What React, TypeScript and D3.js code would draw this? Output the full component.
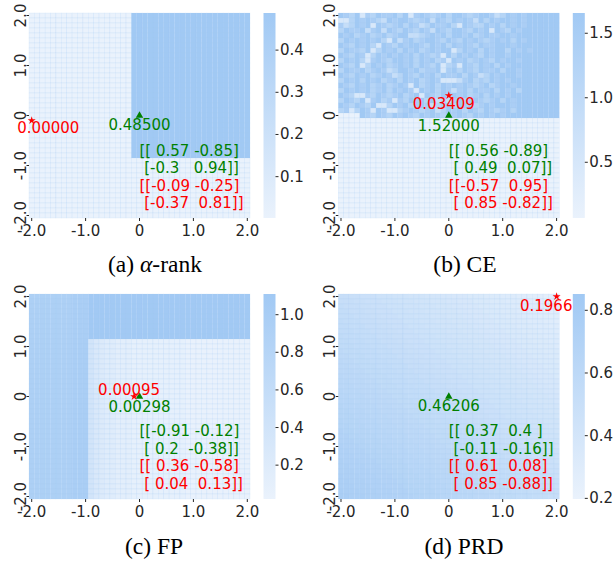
import React from 'react';
import * as d3 from 'd3';

// ---------- data ----------
const CELL_COORDS = [-2.0, -1.9, -1.8, -1.7, -1.6, -1.5, -1.4, -1.3, -1.2, -1.1, -1.0, -0.9, -0.8, -0.7, -0.6, -0.5, -0.4, -0.3, -0.2, -0.1, 0.0, 0.1, 0.2, 0.3, 0.4, 0.5, 0.6, 0.7, 0.8, 0.9, 1.0, 1.1, 1.2, 1.3, 1.4, 1.5, 1.6, 1.7, 1.8, 1.9, 2.0];
const AXIS_TICKS = [-2, -1, 0, 1, 2];
const AXIS_TICK_LABELS = ['-2.0', '-1.0', '0', '1.0', '2.0'];

// grids: rows top (y=2.0) to bottom (y=-2.0); "n|char:count ..." = n identical rows
const ALPHA_GRID = ['29|l:19 h:22', '12|l:41'];
const ALPHA_LEVELS: Record<string, number> = { l: 0.004, h: 0.485 };

const CE_GRID = [
  'edceadceddeceadedcdeceedcdeedbcedede' + 'eeeee',
  'aacededcbedeedcdebedcededbecedeedede' + 'eeeee',
  'dbcedeaedcdecedbceddecaedccedecedede' + 'eeeee',
  'ceddebdebedcedcedbedceedcedeaedcedee' + 'eeeee',
  'edecdecdecdeebbcdedeceedecdeddeedeee' + 'eeeee',
  'cedededecaebdecdeedcedcededcdedecede' + 'eeeee',
  'edcedecaedcedeedcedecededceddeeedeee' + 'eeeee',
  'ceddceacedecedecdedeeacedecedeeceded' + 'eeeee',
  'edcedacedededecedcdaecededcedeedeeee' + 'eeeee',
  'cedecadedceedecedecdaedecdedcedeedee' + 'eeeee',
  'edceacedecdedecedceacdaedcedecedeeee' + 'eeeee',
  'ceddecdedbceedecddeadecedceddeceedee' + 'eeeee',
  'edcedecdedbcedcedeceddecedbcedeeedee' + 'eeeee',
  'cedecedecdecedecdedaaabdecdcededeeee' + 'eeeee',
  'edcedecdecdedaecdecedededcdecdeedeee' + 'eeeee',
  'cededecdecededaedecedbdeceddecedecee' + 'eeeee',
  'edcaadcedcdecdeaedcededecdecededeeee' + 'eeeee',
  'cedceadecdadcedecebcbdecdedcdecedeee' + 'eeeee',
  'edcedceaacedecdedbcdecedecdedeeedeee' + 'eeeee',
  'cdacedaedaacdedcdebcedecedcedcdeceee' + 'eeeee',
  '0000edcedcededcededcededcedededeeeee' + 'eeeee',
  '20|0:41',
];
const CE_LEVELS: Record<string, number> = { '0': 0.07, a: 0.45, b: 0.85, c: 1.2, d: 1.45, e: 1.66 };

const FP_GRID = ['9|C:8 B:3 A:30', '32|C:8 B:3 7:1 5:1 4:1 3:2 2:3 1:10 0:12'];
const FP_LEVELS: Record<string, number> = { A: 1.1, B: 0.98, C: 0.93, '7': 0.38, '5': 0.28, '4': 0.23, '3': 0.18, '2': 0.13, '1': 0.08, '0': 0.04 };

const PRD_GRID = [
  'hhggfffeeedddcccbbbaa99988877766655444333',
  'hhhggfffeeedddcccbbbaa9998887776665544433',
  'ihhhggfffeeedddcccbbbaa999888777666554443',
  'iihhhggfffeeedddcccbbbaa99988877766655444',
  'iiihhhggfffeeedddcccbbbaa9998887776665544',
  'jiiihhhggfffeeedddcccbbbaa999888777666554',
  'jjiiihhhggfffeeedddcccbbbaa99988877766655',
  'jjjiiihhhggfffeeedddcccbbbaa9998887776665',
  'kjjjiiihhhggfffeeedddcccbbbaa999888777666',
  'kkjjjiiihhhggfffeeedddcccbbbaa99988877766',
  'kkkjjjiiihhhggfffeeedddcccbbbaa9998887776',
  'lkkkjjjiiihhhggfffeeedddcccbbbaa999888777',
  'llkkkjjjiiihhhggfffeeedddcccbbbaa99988877',
  'mllkkkjjjiiihhhggfffeeedddcccbbbaa9998887',
  'mmllkkkjjjiiihhhggfffeeedddcccbbbaa999888',
  'mmmllkkkjjjiiihhhggfffeeedddcccbbbaa99988',
  'nmmmllkkkjjjiiihhhggfffeeedddcccbbbaa9998',
  'nnmmmllkkkjjjiiihhhggfffeeedddcccbbbaa999',
  'nnnmmmllkkkjjjiiihhhggfffeeedddcccbbbaa99',
  'onnnmmmllkkkjjjiiihhhggfffeeedddcccbbbaa9',
  'oonnnmmmllkkkjjjiiihhhggfffeeedddcccbbbaa',
  'ooonnnmmmllkkkjjjiiihhhggfffeeedddcccbbba',
  'pooonnnmmmllkkkjjjiiihhhggfffeeedddcccbbb',
  'ppooonnnmmmllkkkjjjiiihhhggfffeeedddcccbb',
  'pppooonnnmmmllkkkjjjiiihhhggfffeeedddcccb',
  'qpppooonnnmmmllkkkjjjiiihhhggfffeeedddccc',
  'qqpppooonnnmmmllkkkjjjiiihhhggfffeeedddcc',
  'rqqpppooonnnmmmllkkkjjjiiihhhggfffeeedddc',
  'rrqqpppooonnnmmmllkkkjjjiiihhhggfffeeeddd',
  'rrrqqpppooonnnmmmllkkkjjjiiihhhggfffeeedd',
  'srrrqqpppooonnnmmmllkkkjjjiiihhhggfffeeed',
  'ssrrrqqpppooonnnmmmllkkkjjjiiihhhggfffeee',
  'sssrrrqqpppooonnnmmmllkkkjjjiiihhhggfffee',
  'tsssrrrqqpppooonnnmmmllkkkjjjiiihhhggfffe',
  'ttsssrrrqqpppooonnnmmmllkkkjjjiiihhhggfff',
  'tttsssrrrqqpppooonnnmmmllkkkjjjiiihhhggff',
  'utttsssrrrqqpppooonnnmmmllkkkjjjiiihhhggf',
  'uutttsssrrrqqpppooonnnmmmllkkkjjjiiihhhgg',
  'uuutttsssrrrqqpppooonnnmmmllkkkjjjiiihhhg',
  'vuuutttsssrrrqqpppooonnnmmmllkkkjjjiiihhh',
  'vvuuutttsssrrrqqpppooonnnmmmllkkkjjjiiihh',
];
const PRD_CODES = '0123456789abcdefghijklmnopqrstuvwxyz';
const PRD_RANGE = [0.2, 0.85];

const CB_DOMAINS = [[0.002, 0.488], [0.068, 1.657], [0.02, 1.11], [0.198, 0.852]];
const CB_TICKS = [[0.1, 0.2, 0.3, 0.4], [0.5, 1.0, 1.5], [0.2, 0.4, 0.6, 0.8, 1.0], [0.2, 0.4, 0.6, 0.8]];
const CB_TICK_LABELS = [['0.1', '0.2', '0.3', '0.4'], ['0.5', '1.0', '1.5'], ['0.2', '0.4', '0.6', '0.8', '1.0'], ['0.2', '0.4', '0.6', '0.8']];

const RED_POINTS = [[-2.0, -0.1], [0.0, 0.4], [-0.1, 0.0], [2.0, 2.0]];
const RED_VALUES = ['0.00000', '0.03409', '0.00095', '0.1966'];
const GREEN_POINTS = [[0.0, 0.0], [0.0, 0.0], [0.0, 0.0], [0.0, 0.0]];
const GREEN_VALUES = ['0.48500', '1.52000', '0.00298', '0.46206'];
const GREEN_MATRICES = [
  ['[[ 0.57 -0.85]', ' [-0.3   0.94]]'],
  ['[[ 0.56 -0.89]', ' [ 0.49  0.07]]'],
  ['[[-0.91 -0.12]', ' [ 0.2  -0.38]]'],
  ['[[ 0.37  0.4 ]', ' [-0.11 -0.16]]'],
];
const RED_MATRICES = [
  ['[[-0.09 -0.25]', ' [-0.37  0.81]]'],
  ['[[-0.57  0.95]', ' [ 0.85 -0.82]]'],
  ['[[ 0.36 -0.58]', ' [ 0.04  0.13]]'],
  ['[[ 0.61  0.08]', ' [ 0.85 -0.88]]'],
];
const CAPTIONS = [['(a) ', 'α', '-rank'], ['(b) CE', '', ''], ['(c) FP', '', ''], ['(d) PRD', '', '']];

// ---------- layout / style ----------
const W = 221;
const H = 205;
const CB_GAP = 13.5;
const CB_W = 12;
const ORIGINS = [[29, 13], [338.3, 13], [29, 294], [338.3, 294]];
const RED_OFFSETS = [[16.6, 12.5], [-5, 13.5], [-5, -1.7], [-10.4, 14.7]];
const GREEN_OFFSETS = [[0, 14.5], [0, 15], [0, 15], [0, 14.5]];
const MATRIX_BASE = [40.5, 40.5, 39.8, 39.8];
const MATRIX_STEP = 17.4;
const CAPTION_POS = [[155, 272], [465, 272], [154, 554], [464, 554]];
const CAPTION_SIZE = 23.5;
const LIGHT = '#eaf2fc';
const DARK = '#a1c9f4';
const FONT = "'DejaVu Sans', sans-serif";
const INK = '#262626';

function decodeGrid(spec: string[]): string[] {
  const rows: string[] = [];
  for (const s of spec) {
    if (s.includes('|')) {
      const [n, body] = s.split('|');
      const row = body
        .split(' ')
        .map((t) => {
          const [ch, k] = t.split(':');
          return ch.repeat(+k);
        })
        .join('');
      for (let i = 0; i < +n; i++) rows.push(row);
    } else rows.push(s);
  }
  return rows.map((r) => (r + r[r.length - 1].repeat(41)).slice(0, 41));
}

const GRIDS = [ALPHA_GRID, CE_GRID, FP_GRID, PRD_GRID].map(decodeGrid);
const LEVEL_FNS: ((ch: string) => number)[] = [
  (ch) => ALPHA_LEVELS[ch],
  (ch) => CE_LEVELS[ch],
  (ch) => FP_LEVELS[ch],
  (ch) => PRD_RANGE[0] + (PRD_CODES.indexOf(ch) / 35) * (PRD_RANGE[1] - PRD_RANGE[0]),
];

function Panel({ idx }: { idx: number }) {
  const [ox, oy] = ORIGINS[idx];
  const grid = GRIDS[idx];
  const lv = LEVEL_FNS[idx];
  const dom = CB_DOMAINS[idx];
  const color = d3.scaleLinear<string>().domain(dom).range([LIGHT, DARK]).interpolate(d3.interpolateRgb).clamp(true);
  const x = d3.scaleLinear().domain([-2.05, 2.05]).range([0, W]);
  const y = d3.scaleLinear().domain([2.05, -2.05]).range([0, H]);
  const cw = W / CELL_COORDS.length;
  const ch = H / CELL_COORDS.length;
  const cb = d3.scaleLinear().domain(dom).range([H, 0]);
  const cbx = W + CB_GAP;
  const star = d3.symbol().type(d3.symbolStar).size(20)() as string;
  const tri = d3.symbol().type(d3.symbolTriangle).size(24)() as string;
  const [rx, ry] = RED_POINTS[idx];
  const [gx, gy] = GREEN_POINTS[idx];
  const gid = `cbgrad${idx}`;
  const cells: React.ReactNode[] = [];
  grid.forEach((row, r) => {
    const yc = CELL_COORDS[CELL_COORDS.length - 1 - r];
    for (let c = 0; c < CELL_COORDS.length; c++) {
      const xc = CELL_COORDS[c];
      cells.push(
        <rect
          key={`${r}-${c}`}
          x={x(xc) - cw / 2}
          y={y(yc) - ch / 2}
          width={cw}
          height={ch}
          fill={color(lv(row[c]))}
          stroke={DARK}
          strokeOpacity={0.3}
          strokeWidth={0.5}
        />
      );
    }
  });
  const zeroY = y(0);
  const mats = [...GREEN_MATRICES[idx].map((t) => ({ t, c: 'green' })), ...RED_MATRICES[idx].map((t) => ({ t, c: 'red' }))];
  const [cx, cy] = CAPTION_POS[idx];
  const cap = CAPTIONS[idx];
  return (
    <g>
      <g transform={`translate(${ox},${oy})`}>
        <defs>
          <linearGradient id={gid} x1="0" y1="1" x2="0" y2="0">
            <stop offset="0%" stopColor={color(dom[0])} />
            <stop offset="100%" stopColor={color(dom[1])} />
          </linearGradient>
        </defs>
        {cells}
        {AXIS_TICKS.map((t, i) => (
          <g key={`yt${i}`}>
            <line x1={-2.5} x2={0} y1={y(t)} y2={y(t)} stroke={INK} strokeWidth={1} />
            <text
              transform={`translate(-3,${y(t)}) rotate(-90)`}
              textAnchor="middle"
              fontFamily={FONT}
              fontSize={15}
              fill={INK}
            >
              {AXIS_TICK_LABELS[i]}
            </text>
          </g>
        ))}
        {AXIS_TICKS.map((t, i) => (
          <g key={`xt${i}`}>
            <line x1={x(t)} x2={x(t)} y1={H} y2={H + 3} stroke={INK} strokeWidth={1} />
            <text x={x(t)} y={H + 18} textAnchor="middle" fontFamily={FONT} fontSize={15} fill={INK}>
              {AXIS_TICK_LABELS[i]}
            </text>
          </g>
        ))}
        <rect x={cbx} y={0} width={CB_W} height={H} fill={`url(#${gid})`} />
        {CB_TICKS[idx].map((t, i) => (
          <g key={`cb${i}`}>
            <line x1={cbx + CB_W} x2={cbx + CB_W + 3} y1={cb(t)} y2={cb(t)} stroke={INK} strokeWidth={1} />
            <text x={cbx + CB_W + 4.5} y={cb(t)} dominantBaseline="central" fontFamily={FONT} fontSize={15} fill={INK}>
              {CB_TICK_LABELS[idx][i]}
            </text>
          </g>
        ))}
        <path d={tri} transform={`translate(${x(gx)},${y(gy)})`} fill="green" />
        <path d={star} transform={`translate(${x(rx)},${y(ry)})`} fill="red" />
        <text
          x={x(rx) + RED_OFFSETS[idx][0]}
          y={y(ry) + RED_OFFSETS[idx][1]}
          textAnchor="middle"
          fontFamily={FONT}
          fontSize={15}
          fill="red"
        >
          {RED_VALUES[idx]}
        </text>
        <text
          x={x(gx) + GREEN_OFFSETS[idx][0]}
          y={y(gy) + GREEN_OFFSETS[idx][1]}
          textAnchor="middle"
          fontFamily={FONT}
          fontSize={15}
          fill="green"
        >
          {GREEN_VALUES[idx]}
        </text>
        {mats.map((m, i) => (
          <text
            key={`m${i}`}
            x={x(0)}
            y={zeroY + MATRIX_BASE[idx] + i * MATRIX_STEP}
            fontFamily={FONT}
            fontSize={15}
            fill={m.c}
            style={{ whiteSpace: 'pre' }}
          >
            {m.t}
          </text>
        ))}
      </g>
      <text
        x={cx}
        y={cy}
        textAnchor="middle"
        fontFamily="'Liberation Serif', 'Times New Roman', serif"
        fontSize={CAPTION_SIZE}
        fill="#000"
      >
        {cap[0]}
        {cap[1] ? <tspan fontStyle="italic">{cap[1]}</tspan> : null}
        {cap[2]}
      </text>
    </g>
  );
}

export default function App() {
  return (
    <svg
      width={613}
      height={566}
      viewBox="0 0 613 566"
      style={{ position: 'absolute', left: 0, top: 0, background: '#fff' }}
    >
      <rect width={613} height={566} fill="#fff" />
      {[0, 1, 2, 3].map((i) => (
        <Panel key={i} idx={i} />
      ))}
    </svg>
  );
}
